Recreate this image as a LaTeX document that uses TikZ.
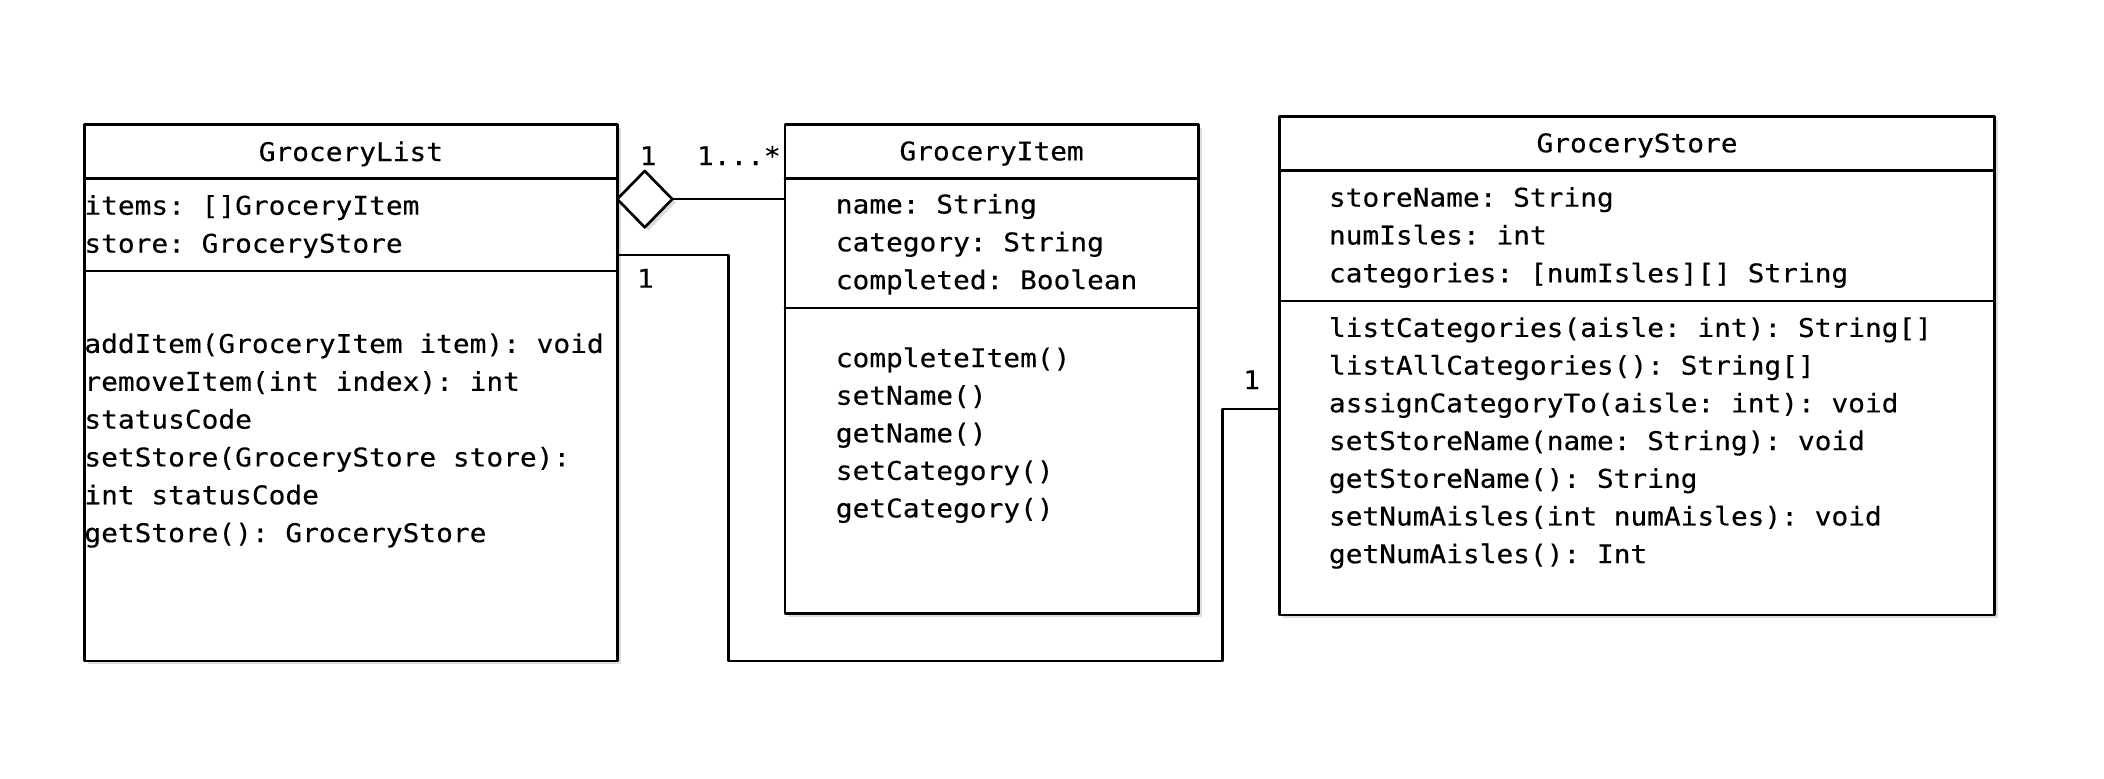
\documentclass[tikz,border=0pt]{standalone}
\usepackage{fontspec}
\setmonofont[FakeStretch=1.08,FakeBold=0.3]{DejaVu Sans Mono}
\usetikzlibrary{shapes.geometric,shadows}

\tikzset{
	umlbox/.style={draw,line width=1pt,fill=white,inner sep=0pt,outer sep=0pt,anchor=north west,
		drop shadow={shadow xshift=1.3pt,shadow yshift=-1.3pt,opacity=0.22,fill=black!60}},
	umltext/.style={inner sep=0pt,anchor=base west,font=\ttfamily\fontsize{9.6}{14}\selectfont},
	umltitle/.style={umltext,anchor=base},
	aggdiamond/.style={diamond,draw,line width=1pt,fill=white,inner sep=0pt,outer sep=0pt,
		minimum width=20.5pt,minimum height=21pt,anchor=west,
		drop shadow={shadow xshift=1.3pt,shadow yshift=-1.3pt,opacity=0.22,fill=black!60}},
	assoc/.style={line width=1pt}
}

\begin{document}
\begin{tikzpicture}[line cap=round,line join=round,x=0.5pt,y=-0.5pt]
		\useasboundingbox (0,0) rectangle (1568,580);
		%%%%%%%%%%%%%%% C L A S S E S %%%%%%%%%%%%%%%%
		%GroceryList
		\node[umlbox,minimum width=198.5pt,minimum height=199.75pt] (list) at (63,93) {};
		\draw[assoc] (list.north west) ++(0,40) -- ++(397,0);
		\draw[assoc] (list.north west) ++(0,109) -- ++(397,0);
		%GroceryItem
		\node[umlbox,minimum width=154pt,minimum height=182pt] (item) at (585,93) {};
		\draw[assoc] (item.north west) ++(0,40) -- ++(308,0);
		\draw[assoc] (item.north west) ++(0,136.5) -- ++(308,0);
		%GroceryStore
		\node[umlbox,minimum width=266.5pt,minimum height=185.6pt] (store) at (953.5,87) {};
		\draw[assoc] (store.north west) ++(0,40) -- ++(533,0);
		\draw[assoc] (store.north west) ++(0,137.2) -- ++(533,0);
		%%%%%%%%%%%%%%% L I N K S %%%%%%%%%%%%%%%%
		%aggregation list-item
		\node[aggdiamond] (agg) at (460,148.4) {};
		\draw[assoc] (agg.east) -- (agg.east -| item.west);
		%association list-store
		\coordinate (bendA) at (543,190);
		\coordinate (bendB) at (543,492.5);
		\coordinate (bendC) at (911,492.5);
		\coordinate (bendD) at (911,304.8);
		\draw[assoc] (list.east |- bendA) -- (bendA) -- (bendB) -- (bendC) -- (bendD) -- (store.west |- bendD);
		%%%%%%%%%%%%%%% T E X T S %%%%%%%%%%%%%%%%
		%GroceryList
		\node[umltitle] (listname) at (261.5,120) {GroceryList};
		\foreach \txt [count=\i] in {{items: []GroceryItem},{store: GroceryStore}}
			\node[umltext] (lista\i) at (62.5,{160+28.3*(\i-1)}) {\txt};
		\foreach \txt [count=\i] in {{addItem(GroceryItem item): void},{removeItem(int index): int},{statusCode},
			{setStore(GroceryStore store):},{int statusCode},{getStore(): GroceryStore}}
			\node[umltext] (listm\i) at (62.5,{263+28.2*(\i-1)}) {\txt};
		%GroceryItem
		\node[umltitle] (itemname) at (739,119.5) {GroceryItem};
		\foreach \txt [count=\i] in {{name: String},{category: String},{completed: Boolean}}
			\node[umltext] (itema\i) at (622.5,{159.1+28.2*(\i-1)}) {\txt};
		\foreach \txt [count=\i] in {{completeItem()},{setName()},{getName()},{setCategory()},{getCategory()}}
			\node[umltext] (itemm\i) at (622.5,{273.6+28*(\i-1)}) {\txt};
		%GroceryStore
		\node[umltitle] (storename) at (1220,113.5) {GroceryStore};
		\foreach \txt [count=\i] in {{storeName: String},{numIsles: int},{categories: [numIsles][] String}}
			\node[umltext] (storea\i) at (990,{154+28.2*(\i-1)}) {\txt};
		\foreach \txt [count=\i] in {{listCategories(aisle: int): String[]},{listAllCategories(): String[]},
			{assignCategoryTo(aisle: int): void},{setStoreName(name: String): void},{getStoreName(): String},
			{setNumAisles(int numAisles): void},{getNumAisles(): Int}}
			\node[umltext] (storem\i) at (990,{251.1+28.1*(\i-1)}) {\txt};
		%multiplicities
		\node[umltitle] (aggmult) at (483,123) {1};
		\node[umltext] (itemmult) at (519,123) {1...*};
		\node[umltitle] (storemult) at (481,214.4) {1};
		\node[umltitle] (listmult) at (932.8,290) {1};
	\end{tikzpicture}
\end{document}
